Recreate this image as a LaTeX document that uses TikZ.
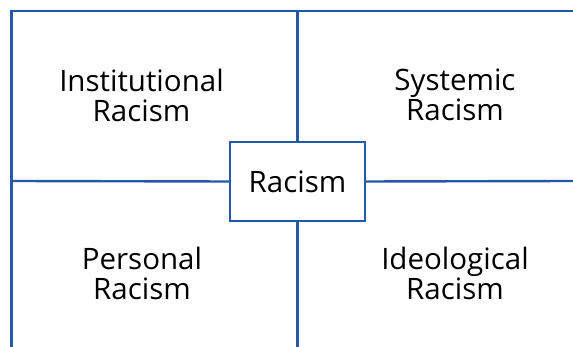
\documentclass[tikz,border=0pt]{standalone}
\usepackage{fontspec}
\setmainfont{Open Sans}
\usetikzlibrary{positioning}
\definecolor{linie}{RGB}{38,88,170}
\tikzset{
  linja/.style={draw=linie,line width=2.4pt},
  kaste/.style={draw=linie,line width=2.4pt,fill=white,minimum width=135pt,minimum height=79pt,
                font=\fontsize{29.5}{30}\selectfont,inner sep=0pt},
  merke/.style={align=center,font=\fontsize{29.5}{30}\selectfont,inner sep=0pt},
}
\begin{document}
\begin{tikzpicture}[x=1pt,y=1pt]
  \useasboundingbox (0,0) rectangle (573,347);
  % outer frame
  \coordinate (topleft) at (11.5,336);
  \coordinate (topright) at (573,336);
  \coordinate (botleft) at (11.5,0);
  \coordinate (topmid) at (297.5,336);
  \coordinate (botmid) at (297.5,0);
  \coordinate (midleft) at (11.5,166);
  \coordinate (midright) at (573,166);
  \node[kaste] (racism) at (297.5,165.5) {Racism};
  \draw[linja,line cap=rect] (botleft) -- (topleft) -- (topright);
  \draw[linja] (topmid) -- (racism.north);
  \draw[linja] (racism.south) -- (botmid);
  \draw[linja] (midleft) -- (racism.west);
  \draw[linja] (racism.east) -- (midright);
  % quadrant labels
  \node[merke] (inst) at (141.5,252) {Institutional\\Racism};
  \node[merke] (syst) at (455,252) {Systemic\\Racism};
  \node[merke] (pers) at (142,74) {Personal\\Racism};
  \node[merke] (ideo) at (455,74) {Ideological\\Racism};
\end{tikzpicture}
\end{document}
